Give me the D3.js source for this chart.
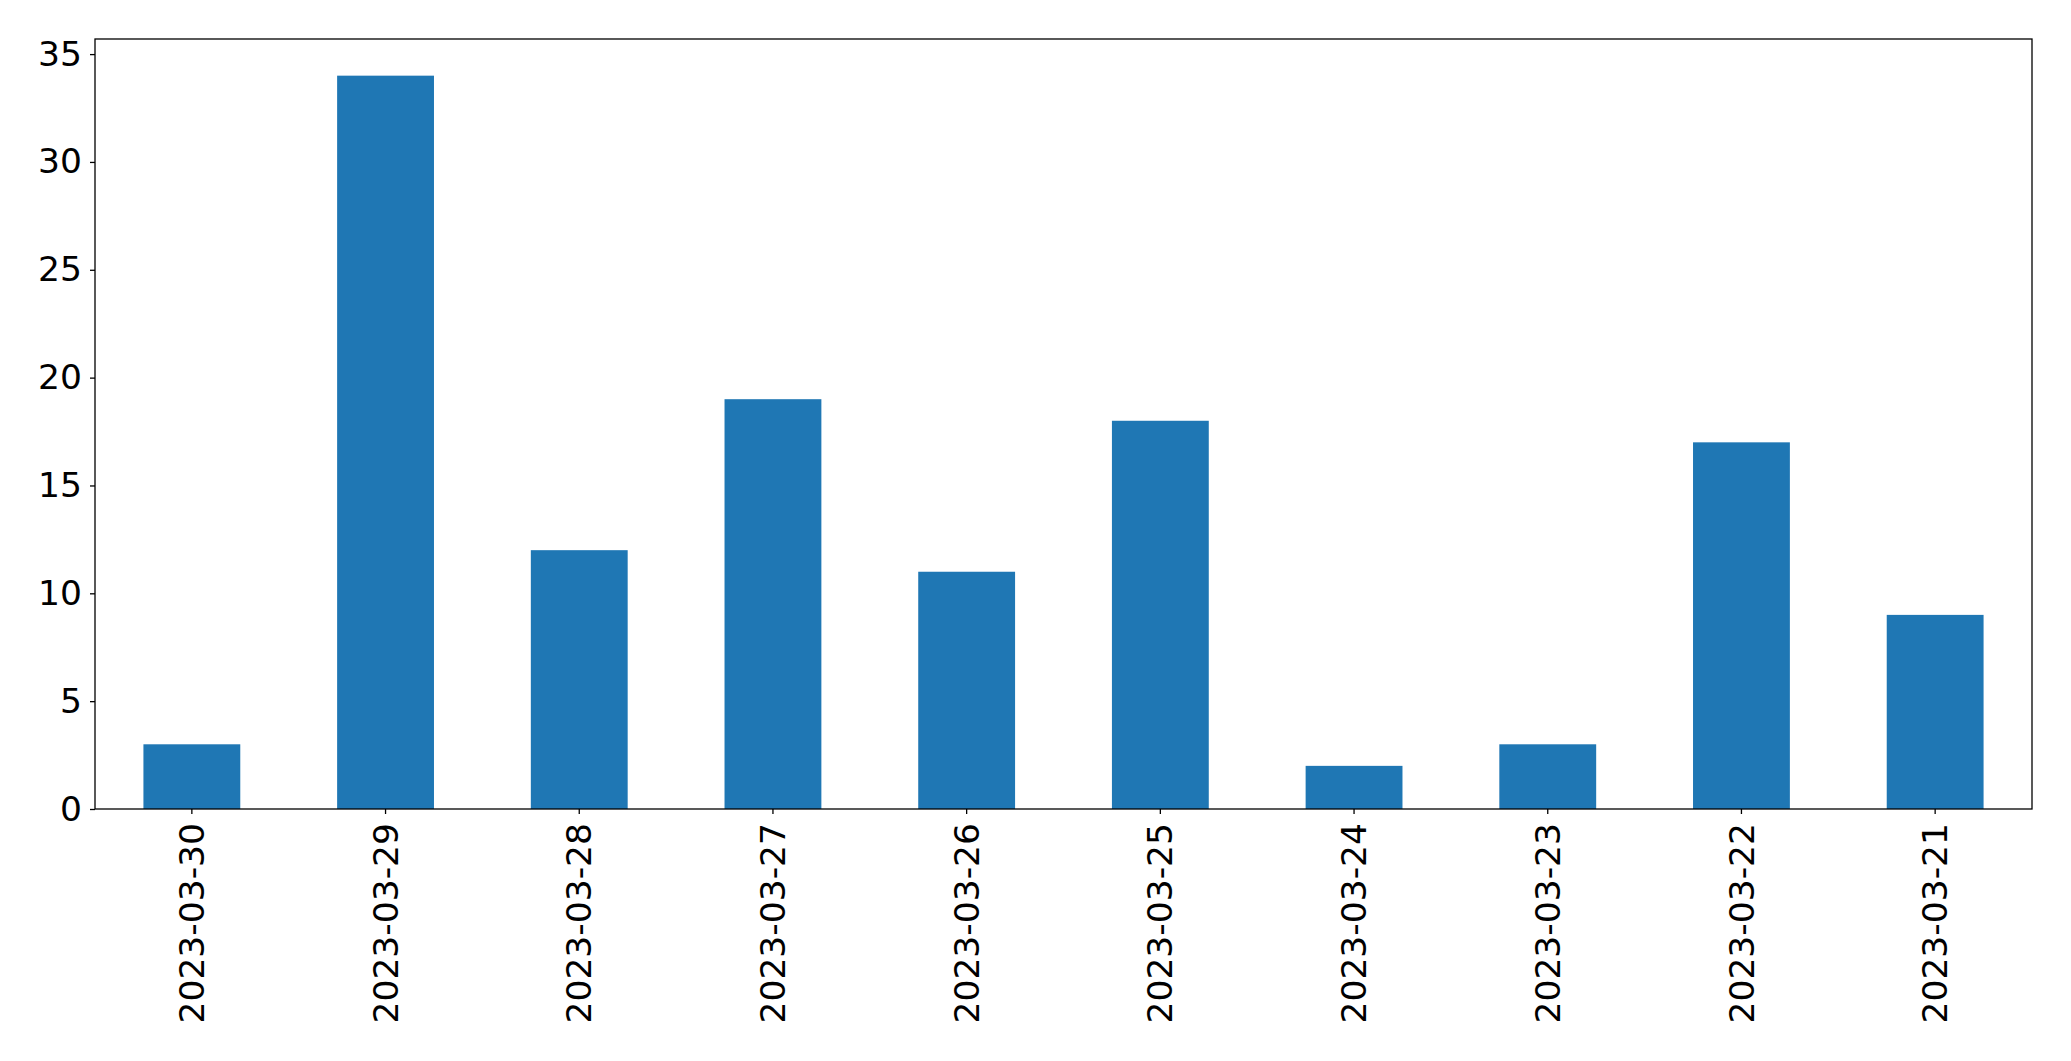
<!DOCTYPE html>
<html>
<head>
<meta charset="utf-8">
<script src="https://cdn.jsdelivr.net/npm/d3@7"></script>
<style>
  body { margin: 0; background: #fff; }
  svg { display: block; }
  .axis text { font-family: "DejaVu Sans", sans-serif; font-size: 34.5px; fill: #000; }
  .axis path, .axis line { stroke: #000; stroke-width: 1.3px; }
</style>
</head>
<body>
<svg id="chart" width="2071" height="1061"></svg>
<script>
// dates (x categories), counts per day
var dates = ["2023-03-30", "2023-03-29", "2023-03-28", "2023-03-27", "2023-03-26",
             "2023-03-25", "2023-03-24", "2023-03-23", "2023-03-22", "2023-03-21"];
var counts = [3, 34, 12, 19, 11, 18, 2, 3, 17, 9];
var yTicks = [0, 5, 10, 15, 20, 25, 30, 35];

var margin = {left: 95, right: 39, top: 39, bottom: 252};
var width = 2071, height = 1061;

var svg = d3.select("#chart");

var x = d3.scaleBand()
    .domain(dates)
    .range([margin.left, width - margin.right])
    .paddingInner(0.5)
    .paddingOuter(0.25);

var y = d3.scaleLinear()
    .domain([0, d3.max(counts) * 1.05])
    .range([height - margin.bottom, margin.top]);

//---------------------------------------
svg.append("g")
  .selectAll("rect")
  .data(counts)
  .enter().append("rect")
    .attr("x", function(d, i) { return x(dates[i]); })
    .attr("y", function(d) { return y(d); })
    .attr("width", x.bandwidth())
    .attr("height", function(d) { return y(0) - y(d); })
    .attr("fill", "#1f77b4");

//---------------------------------------
var yAxis = svg.append("g")
    .attr("class", "axis")
    .attr("transform", "translate(" + margin.left + ",0)")
    .call(d3.axisLeft(y).tickValues(yTicks).tickSize(5).tickPadding(8).tickFormat(d3.format("d")));
yAxis.select(".domain").remove();

var xAxis = svg.append("g")
    .attr("class", "axis")
    .attr("transform", "translate(0," + (height - margin.bottom) + ")")
    .call(d3.axisBottom(x).tickSize(5).tickSizeOuter(0));
xAxis.select(".domain").remove();
xAxis.selectAll("text")
    .attr("transform", "rotate(-90)")
    .attr("text-anchor", "end")
    .attr("x", -14)
    .attr("y", 0)
    .attr("dy", "0.35em");

// frame
svg.append("rect")
    .attr("x", margin.left)
    .attr("y", margin.top)
    .attr("width", width - margin.left - margin.right)
    .attr("height", height - margin.top - margin.bottom)
    .attr("fill", "none")
    .attr("stroke", "#000")
    .attr("stroke-width", 1.3);
</script>
</body>
</html>
